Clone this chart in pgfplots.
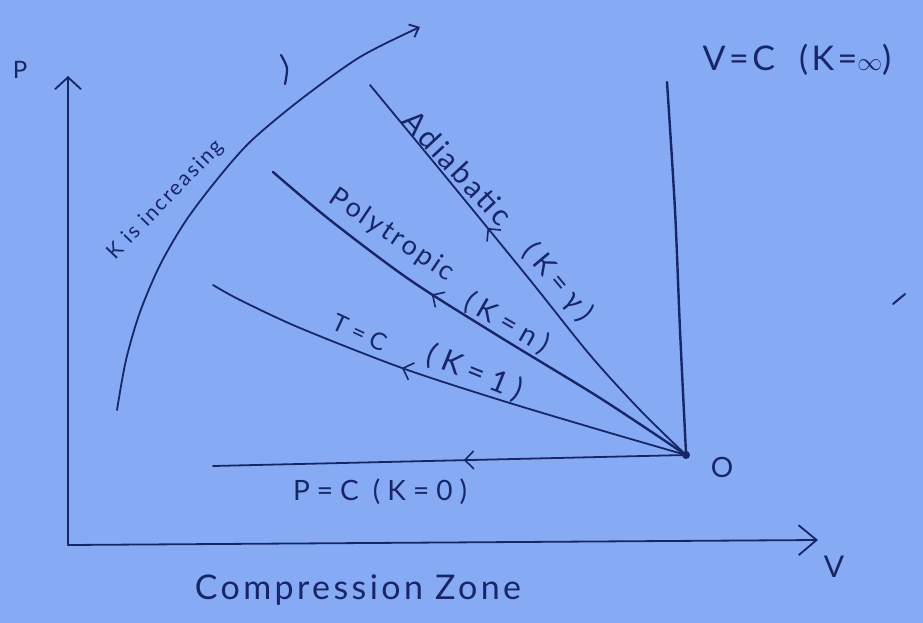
\documentclass[border=0pt]{standalone}
\usepackage{pgfplots}
\pgfplotsset{compat=1.18}
\usepackage{fontspec}
\setmainfont{Lato}
\newfontfamily\wideA[LetterSpace=10]{Lato}
\newfontfamily\wideB[LetterSpace=25]{Lato}
\usetikzlibrary{arrows.meta,decorations.markings}
\definecolor{paper}{RGB}{134,171,244}
\definecolor{ink}{RGB}{24,38,104}
\tikzset{
  hand/.style={ink, line width=1.8pt, line cap=round, line join=round},
  midarrow/.style={postaction={decorate, decoration={markings,
      mark=at position #1 with {\arrow[ink, line width=1.6pt]{Straight Barb[length=9pt,width=18pt]}}}}},
  lbl/.style={ink, inner sep=0pt, font=\wideA\fontsize{#1}{#1}\selectfont},
  lblw/.style={ink, inner sep=0pt, font=\wideB\fontsize{#1}{#1}\selectfont},
}
\begin{document}
\begin{tikzpicture}
\begin{axis}[
  width=923pt, height=623pt, scale only axis,
  xmin=0, xmax=923, ymin=0, ymax=623, y dir=reverse,
  hide axis, clip=false]
\fill[paper] (rel axis cs:0,0) rectangle (rel axis cs:1,1);

% P and V axes
\addplot[hand, -{Straight Barb[length=12pt,width=26pt]}] coordinates {(68,545) (68,76)};
\addplot[hand, -{Straight Barb[length=18pt,width=30pt]}] coordinates {(68,545) (818,540)};

% processes, each drawn from the state point O outwards
\addplot[hand, midarrow=0.47] coordinates {(686,455) (213,466)};                % P = C
\addplot[hand, smooth, midarrow=0.59] coordinates {
  (686,455) (600,430) (500,400) (402,368) (300,328) (240,300) (213,285)};      % T = C
\addplot[hand, line width=2.4pt, smooth, midarrow=0.6] coordinates {
  (686,455) (600,398) (500,337) (410,280) (330,220) (273,172)};                % polytropic
\addplot[hand, smooth, midarrow=0.62] coordinates {
  (686,455) (640,410) (590,355) (530,280) (450,182) (370,85)};                 % adiabatic
\addplot[hand, line width=2.4pt, smooth] coordinates {
  (686,453) (680,330) (675,210) (667,82)};                                     % V = C
\fill[ink] (axis cs:686,455) circle (4pt);

% direction of increasing K
\addplot[hand, smooth, -{Straight Barb[length=8pt,width=14pt]}] coordinates {
  (117,410) (126,360) (140,312) (160,265) (185,222) (215,182)
  (250,142) (300,100) (360,57) (420,27)};

% small pen strokes
\addplot[hand, line width=2.2pt, smooth] coordinates {(281,55) (287,68) (285,84)};
\addplot[hand, line width=2pt] coordinates {(893,304) (905,294)};

% labels
\node[lbl=24] at (axis cs:20,70) {P};
\node[lbl=30] at (axis cs:834,567) {V};
\node[lbl=28] at (axis cs:722,467) {O};
\node[lbl=34] at (axis cs:797,60) {V=C\ \ (K=$\infty$)};
\node[lbl=34] at (axis cs:358,590) {Compression Zone};
\node[lblw=28] at (axis cs:380,492) {P=C (K=0)};
\node[lblw=24, rotate=-25] at (axis cs:360,333) {T=C};
\node[lblw=30, rotate=-22] at (axis cs:475,373) {(K=1)};
\node[lbl=27, rotate=-34] at (axis cs:392,235) {Polytropic};
\node[lblw=28, rotate=-30] at (axis cs:507,323) {(K=n)};
\node[lbl=30, rotate=-47] at (axis cs:458,168) {Adiabatic};
\node[lblw=28, rotate=-50] at (axis cs:558,282) {(K=γ)};
\node[lbl=21, rotate=46] at (axis cs:166,200) {K\ is\ increasing};
\end{axis}
\end{tikzpicture}
\end{document}
